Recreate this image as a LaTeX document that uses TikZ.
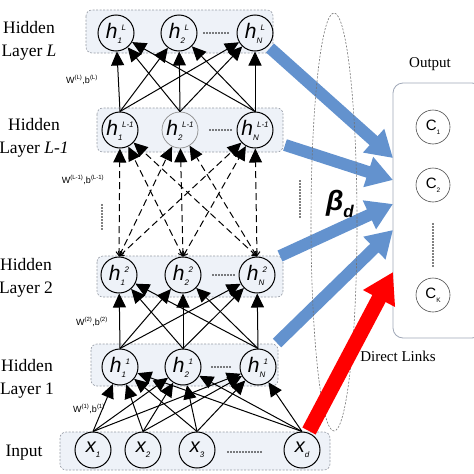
\documentclass[tikz,border=0pt]{standalone}
\usepackage{fontspec}
\setmainfont{Liberation Serif}
\setsansfont{Liberation Sans}
\usetikzlibrary{arrows.meta,shapes.geometric}
\definecolor{boxfill}{RGB}{238,242,248}
\definecolor{boxline}{RGB}{150,155,165}
\definecolor{bluec}{RGB}{99,146,206}
\definecolor{outline}{RGB}{160,168,184}
\newcommand{\hl}[2]{{\sffamily\itshape\fontsize{21}{21}\selectfont h}{\sffamily\itshape\fontsize{8}{8}\selectfont\rlap{\raisebox{-5pt}{#1}}\raisebox{8pt}{\hspace{4pt}#2}}}
\newcommand{\xl}[1]{{\sffamily\itshape\fontsize{20}{20}\selectfont x}{\sffamily\itshape\fontsize{8}{8}\selectfont\raisebox{-5pt}{#1}}}
\newcommand{\cl}[1]{{\sffamily\fontsize{15}{15}\selectfont C}{\sffamily\fontsize{6.5}{6.5}\selectfont\raisebox{-4pt}{#1}}}
\newcommand{\wl}[1]{{\sffamily\fontsize{9}{9}\selectfont W\textsuperscript{(#1)},b\textsuperscript{(#1)}}}
\tikzset{
  neuron/.style={circle, draw, line width=1pt, minimum size=36pt, inner sep=0pt},
  outn/.style={circle, draw=black!70, line width=0.6pt, minimum size=34pt, inner sep=0pt},
  layerbox/.style={draw=boxline, fill=boxfill, dashed, dash pattern=on 2pt off 1.5pt, line width=0.6pt, rounded corners=6pt},
  conn/.style={line width=1pt, -{Triangle[length=14pt,width=13pt]}},
  dconn/.style={line width=1pt, dash pattern=on 7pt off 4pt, {Straight Barb[length=4pt,width=6pt]}-{Triangle[length=14pt,width=13pt]}},
  bluearrow/.style={draw=bluec, line width=12pt, -{Triangle[length=26pt,width=30pt]}, bluec},
  redarrow/.style={draw=red, line width=15pt, -{Triangle[length=30pt,width=34pt]}, red},
  sidelab/.style={align=center, font=\fontsize{17.5}{23}\selectfont},
  hdots/.style={line width=1.6pt, dash pattern=on 0pt off 3pt, line cap=round},
}
\begin{document}
\begin{tikzpicture}[x=1pt,y=-1pt]
\useasboundingbox (0,0) rectangle (474,474);
% boxes
\draw[layerbox] (86,10) rectangle (273,53);
\draw[layerbox] (97,108) rectangle (283,152);
\draw[layerbox] (97,256) rectangle (283,297);
\draw[layerbox] (91,344) rectangle (278,386);
\draw[layerbox] (60,432) rectangle (330,470);
\draw[draw=outline, line width=0.8pt, rounded corners=10pt, fill=white] (393,83) rectangle (482,338);
% side labels
\node[sidelab] (lL) at (29,41) {Hidden\\Layer \textit{L}};
\node[sidelab] (lL1) at (34,138) {Hidden\\Layer \textit{L-1}};
\node[sidelab] (l2) at (26,278) {Hidden\\Layer 2};
\node[sidelab] (l1) at (27,379) {Hidden\\Layer 1};
\node[sidelab] (lin) at (24,453) {Input};
\node[font=\fontsize{15}{15}\selectfont] (lout) at (430,64) {Output};
\node[font=\fontsize{15}{15}\selectfont] (ldl) at (398,356) {Direct Links};
% weight labels
\node (w1) at (82,80) {\wl{L}};
\node (w2) at (83,180) {\wl{L-1}};
\node (w3) at (92,322) {\wl{2}};
\node (w4) at (89,409) {\wl{1}};
% neurons
\node[neuron] (a1) at (116,33) {\hl{1}{L}};
\node[neuron] (a2) at (179,33) {\hl{2}{L}};
\node[neuron] (aN) at (255,33) {\hl{N}{L}};
\node[neuron] (b1) at (120,130) {\hl{1}{L-1}};
\node[neuron, draw=black!45, line width=0.7pt] (b2) at (180,130) {\hl{2}{L-1}};
\node[neuron] (bN) at (255,130) {\hl{N}{L-1}};
\node[neuron] (c1) at (119,275) {\hl{1}{2}};
\node[neuron] (c2) at (183,275) {\hl{2}{2}};
\node[neuron] (cN) at (257,275) {\hl{N}{2}};
\node[neuron] (d1) at (120,367) {\hl{1}{1}};
\node[neuron] (d2) at (183,367) {\hl{2}{1}};
\node[neuron] (dN) at (258,367) {\hl{N}{1}};
\node[neuron] (x1) at (93,450) {\xl{1}};
\node[neuron] (x2) at (143,450) {\xl{2}};
\node[neuron] (x3) at (197,450) {\xl{3}};
\node[neuron] (xd) at (302,450) {\xl{d}};
\node[outn] (o1) at (433,127) {\cl{1}};
\node[outn] (o2) at (433,185) {\cl{2}};
\node[outn] (oK) at (433,295) {\cl{K}};
% dots
\draw[hdots] (204,33) -- (228,33);
\draw[hdots] (210,130) -- (233,130);
\draw[hdots] (213,275) -- (234,275);
\draw[hdots] (212,367) -- (233,367);
\draw[hdots] (228,452) -- (263,452);
\draw[hdots] (102,205) -- (102,229);
\draw[hdots] (300,181) -- (300,218);
\draw[hdots] (433,224) -- (433,267);
% connections
\foreach \s in {x1,x2,x3,xd}{\foreach \t in {d1,d2,dN}{\draw[conn] (\s.north) -- (\t);}}
\foreach \s in {d1,d2,dN}{\foreach \t in {c1,c2,cN}{\draw[conn] (\s.north) -- (\t);}}
\foreach \s in {c1,c2,cN}{\foreach \t in {b1,b2,bN}{\draw[dconn] (\s.north) -- (\t);}}
\foreach \s in {b1,b2,bN}{\foreach \t in {a1,a2,aN}{\draw[conn] (\s.north) -- (\t);}}
% blue arrows
\coordinate (s1) at (270,48); \coordinate (e1) at (393,158);
\coordinate (s2) at (285,145); \coordinate (e2) at (393,180);
\coordinate (s3) at (280,256); \coordinate (e3) at (393,204);
\coordinate (s4) at (277,343); \coordinate (e4) at (393,230);
\coordinate (s5) at (309,431); \coordinate (e5) at (393,272);
\draw[bluearrow] (s1) -- (e1);
\draw[bluearrow] (s2) -- (e2);
\draw[bluearrow] (s3) -- (e3);
\draw[bluearrow] (s4) -- (e4);
% ellipse
\node[ellipse, draw=black!55, dash pattern=on 2pt off 1.5pt, line width=0.6pt, minimum width=46pt, minimum height=418pt, inner sep=0pt] (ell) at (334,222) {};
\draw[redarrow] (s5) -- (e5);
\node (beta) at (340,204) {{\sffamily\bfseries\itshape\fontsize{28}{28}\selectfont β}\raisebox{-7pt}{\sffamily\bfseries\itshape\fontsize{17}{17}\selectfont d}};
\end{tikzpicture}
\end{document}
